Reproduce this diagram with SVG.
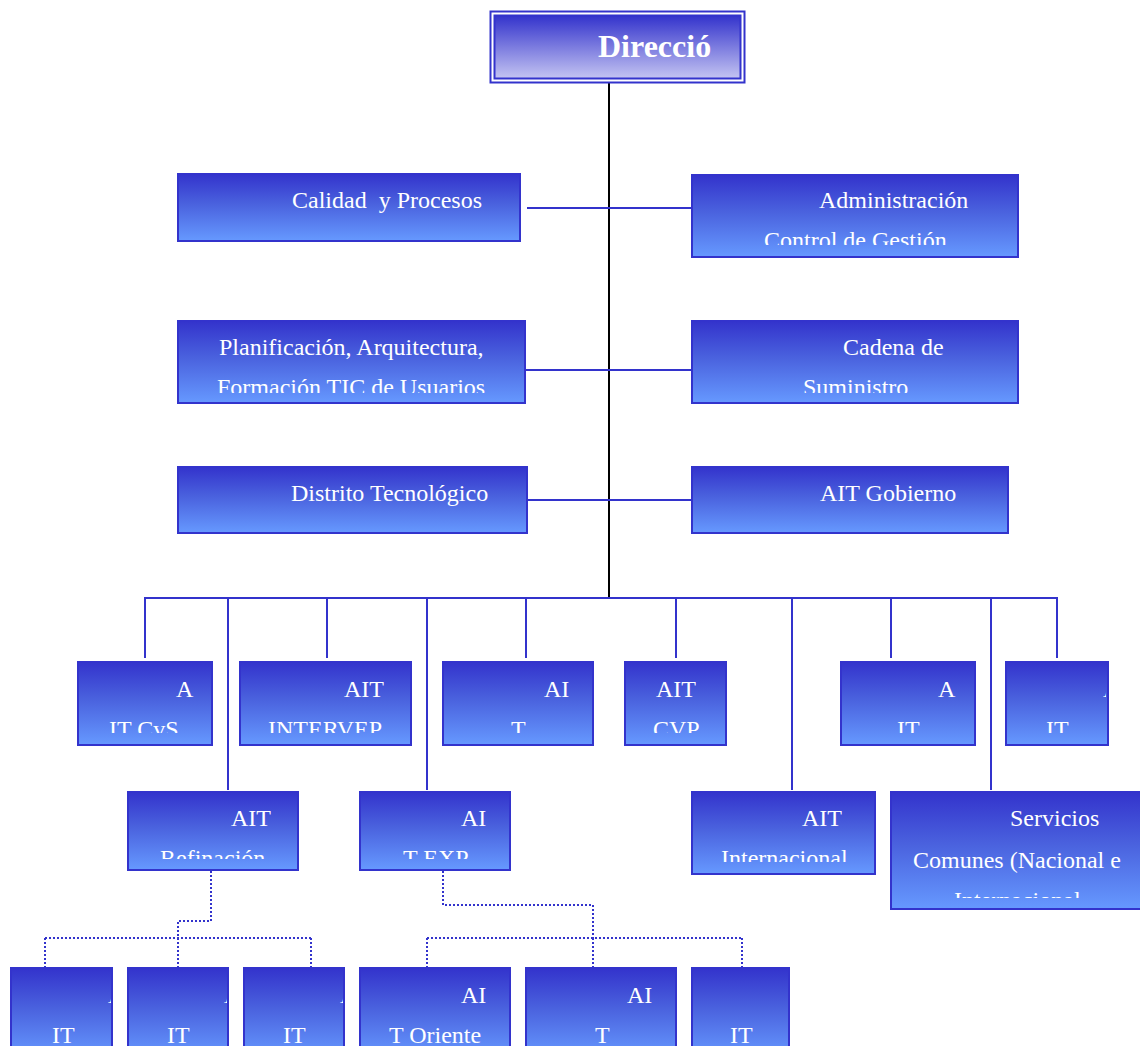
<svg xmlns="http://www.w3.org/2000/svg" width="1140" height="1046" viewBox="0 0 1140 1046">
<style>
.box{fill:url(#g);stroke:#3333cc;stroke-width:2}
.t{font-family:"Liberation Serif","Times New Roman",serif;font-size:24px;fill:#ffffff}
.tb{font-family:"Liberation Serif","Times New Roman",serif;font-size:32px;font-weight:bold;fill:#ffffff}
.c{fill:none;stroke:#3333cc;stroke-width:2}
.d{fill:none;stroke:#3333cc;stroke-width:2;stroke-dasharray:2 2}
</style>
<defs>
<linearGradient id="g" x1="0" y1="0" x2="0" y2="1">
<stop offset="0" stop-color="#3333cc"/>
<stop offset="0.45" stop-color="#4a62de"/>
<stop offset="1" stop-color="#6699ff"/>
</linearGradient>
<linearGradient id="gt" x1="0" y1="0" x2="0" y2="1">
<stop offset="0" stop-color="#3333cc"/>
<stop offset="1" stop-color="#c4c4f2"/>
</linearGradient>
<clipPath id="c_admin"><rect x="693" y="176" width="324" height="69"/></clipPath>
<clipPath id="c_plan"><rect x="179" y="322" width="345" height="71"/></clipPath>
<clipPath id="c_cad"><rect x="693" y="322" width="324" height="71"/></clipPath>
<clipPath id="c_r1a"><rect x="79" y="663" width="132" height="70"/></clipPath>
<clipPath id="c_r1b"><rect x="241" y="663" width="169" height="70"/></clipPath>
<clipPath id="c_r1c"><rect x="444" y="663" width="148" height="70"/></clipPath>
<clipPath id="c_r1d"><rect x="626" y="663" width="99" height="70"/></clipPath>
<clipPath id="c_r1e"><rect x="842" y="663" width="132" height="70"/></clipPath>
<clipPath id="c_r1f"><rect x="1007" y="663" width="99" height="70"/></clipPath>
<clipPath id="c_r2a"><rect x="129" y="793" width="168" height="66"/></clipPath>
<clipPath id="c_r2b"><rect x="361" y="793" width="148" height="66"/></clipPath>
<clipPath id="c_r2c"><rect x="693" y="793" width="181" height="69"/></clipPath>
<clipPath id="c_r2d"><rect x="892" y="793" width="248" height="105"/></clipPath>
<clipPath id="c_b1"><rect x="12" y="969" width="99" height="80"/></clipPath>
<clipPath id="c_b2"><rect x="129" y="969" width="98" height="80"/></clipPath>
<clipPath id="c_b3"><rect x="245" y="969" width="98" height="80"/></clipPath>
</defs>
<rect width="1140" height="1046" fill="#ffffff"/>

<g id="connectors">
<line x1="609" y1="83" x2="609" y2="598" stroke="#000000" stroke-width="2"/>
<line class="c" x1="527" y1="208" x2="692" y2="208"/>
<line class="c" x1="525" y1="370" x2="692" y2="370"/>
<line class="c" x1="527" y1="500" x2="692" y2="500"/>
<line class="c" x1="144" y1="598" x2="1058" y2="598"/>
<line class="c" x1="145" y1="597" x2="145" y2="658"/>
<line class="c" x1="228" y1="597" x2="228" y2="790"/>
<line class="c" x1="327" y1="597" x2="327" y2="658"/>
<line class="c" x1="427" y1="597" x2="427" y2="790"/>
<line class="c" x1="526" y1="597" x2="526" y2="658"/>
<line class="c" x1="676" y1="597" x2="676" y2="658"/>
<line class="c" x1="792" y1="597" x2="792" y2="790"/>
<line class="c" x1="891" y1="597" x2="891" y2="658"/>
<line class="c" x1="991" y1="597" x2="991" y2="790"/>
<line class="c" x1="1057" y1="597" x2="1057" y2="658"/>
<polyline class="d" points="211,871 211,921 178,921 178,938"/>
<line class="d" x1="45" y1="938" x2="311" y2="938"/>
<line class="d" x1="45" y1="938" x2="45" y2="968"/>
<line class="d" x1="178" y1="938" x2="178" y2="968"/>
<line class="d" x1="311" y1="938" x2="311" y2="968"/>
<polyline class="d" points="443,871 443,905 593,905 593,938"/>
<line class="d" x1="427" y1="938" x2="742" y2="938"/>
<line class="d" x1="427" y1="938" x2="427" y2="968"/>
<line class="d" x1="593" y1="938" x2="593" y2="968"/>
<line class="d" x1="742" y1="938" x2="742" y2="968"/>
</g>

<g id="n_direccio">
<rect x="490.5" y="11.5" width="254" height="71" fill="#ffffff" stroke="#3333cc" stroke-width="2"/>
<rect x="494.5" y="15.5" width="246" height="63" fill="url(#gt)" stroke="#3333cc" stroke-width="2"/>
<text class="tb" x="598" y="57">Direcció</text>
</g>

<g id="n_calidad">
<rect class="box" x="178" y="174" width="342" height="67"/>
<text class="t" x="292" y="208" xml:space="preserve" style="white-space:pre">Calidad  y Procesos</text>
</g>

<g id="n_admin">
<rect class="box" x="692" y="175" width="326" height="82"/>
<g clip-path="url(#c_admin)">
<text class="t" x="819" y="208">Administración</text>
<text class="t" x="764" y="248">Control de Gestión</text>
</g>
</g>

<g id="n_plan">
<rect class="box" x="178" y="321" width="347" height="82"/>
<g clip-path="url(#c_plan)">
<text class="t" x="219" y="355">Planificación, Arquitectura,</text>
<text class="t" x="217" y="395">Formación TIC de Usuarios</text>
</g>
</g>

<g id="n_cadena">
<rect class="box" x="692" y="321" width="326" height="82"/>
<g clip-path="url(#c_cad)">
<text class="t" x="843" y="355">Cadena de</text>
<text class="t" x="803" y="395">Suministro</text>
</g>
</g>

<g id="n_distrito">
<rect class="box" x="178" y="467" width="349" height="66"/>
<text class="t" x="291" y="501">Distrito Tecnológico</text>
</g>

<g id="n_gobierno">
<rect class="box" x="692" y="467" width="316" height="66"/>
<text class="t" x="820" y="501">AIT Gobierno</text>
</g>

<g id="n_cvs">
<rect class="box" x="78" y="662" width="134" height="83"/>
<g clip-path="url(#c_r1a)">
<text class="t" x="176" y="697">A</text>
<text class="t" x="109" y="737">IT CvS</text>
</g>
</g>

<g id="n_intervep">
<rect class="box" x="240" y="662" width="171" height="83"/>
<g clip-path="url(#c_r1b)">
<text class="t" x="344" y="697">AIT</text>
<text class="t" x="268" y="737">INTERVEP</text>
</g>
</g>

<g id="n_ait3">
<rect class="box" x="443" y="662" width="150" height="83"/>
<g clip-path="url(#c_r1c)">
<text class="t" x="544" y="697">AI</text>
<text class="t" x="511" y="737">T</text>
</g>
</g>

<g id="n_cvp">
<rect class="box" x="625" y="662" width="101" height="83"/>
<g clip-path="url(#c_r1d)">
<text class="t" x="656" y="697">AIT</text>
<text class="t" x="653" y="737">CVP</text>
</g>
</g>

<g id="n_ait5">
<rect class="box" x="841" y="662" width="134" height="83"/>
<g clip-path="url(#c_r1e)">
<text class="t" x="938" y="697">A</text>
<text class="t" x="897" y="737">IT</text>
</g>
</g>

<g id="n_ait6">
<rect class="box" x="1006" y="662" width="102" height="83"/>
<g clip-path="url(#c_r1f)">
<text class="t" x="1103" y="697">A</text>
<text class="t" x="1046" y="737">IT</text>
</g>
</g>

<g id="n_refinacion">
<rect class="box" x="128" y="792" width="170" height="78"/>
<g clip-path="url(#c_r2a)">
<text class="t" x="231" y="826">AIT</text>
<text class="t" x="160" y="866">Refinación</text>
</g>
</g>

<g id="n_exp">
<rect class="box" x="360" y="792" width="150" height="78"/>
<g clip-path="url(#c_r2b)">
<text class="t" x="461" y="826">AI</text>
<text class="t" x="403" y="866">T EXP</text>
</g>
</g>

<g id="n_internacional">
<rect class="box" x="692" y="792" width="183" height="82"/>
<g clip-path="url(#c_r2c)">
<text class="t" x="802" y="826">AIT</text>
<text class="t" x="721" y="866">Internacional</text>
</g>
</g>

<g id="n_servicios">
<rect class="box" x="891" y="792" width="252" height="117"/>
<g clip-path="url(#c_r2d)">
<text class="t" x="1010" y="826">Servicios</text>
<text class="t" x="913" y="868">Comunes (Nacional e</text>
<text class="t" x="954" y="908">Internacional</text>
</g>
</g>

<g id="n_b1">
<rect class="box" x="11" y="968" width="101" height="90"/>
<g clip-path="url(#c_b1)">
<text class="t" x="108" y="1003">A</text>
<text class="t" x="52" y="1043">IT</text>
</g>
</g>

<g id="n_b2">
<rect class="box" x="128" y="968" width="100" height="90"/>
<g clip-path="url(#c_b2)">
<text class="t" x="224" y="1003">A</text>
<text class="t" x="167" y="1043">IT</text>
</g>
</g>

<g id="n_b3">
<rect class="box" x="244" y="968" width="100" height="90"/>
<g clip-path="url(#c_b3)">
<text class="t" x="340" y="1003">A</text>
<text class="t" x="283" y="1043">IT</text>
</g>
</g>

<g id="n_oriente">
<rect class="box" x="360" y="968" width="150" height="90"/>
<text class="t" x="461" y="1003">AI</text>
<text class="t" x="389" y="1043">T Oriente</text>
</g>

<g id="n_b5">
<rect class="box" x="526" y="968" width="150" height="90"/>
<text class="t" x="627" y="1003">AI</text>
<text class="t" x="595" y="1043">T</text>
</g>

<g id="n_b6">
<rect class="box" x="692" y="968" width="97" height="90"/>
<text class="t" x="730" y="1043">IT</text>
</g>
</svg>
